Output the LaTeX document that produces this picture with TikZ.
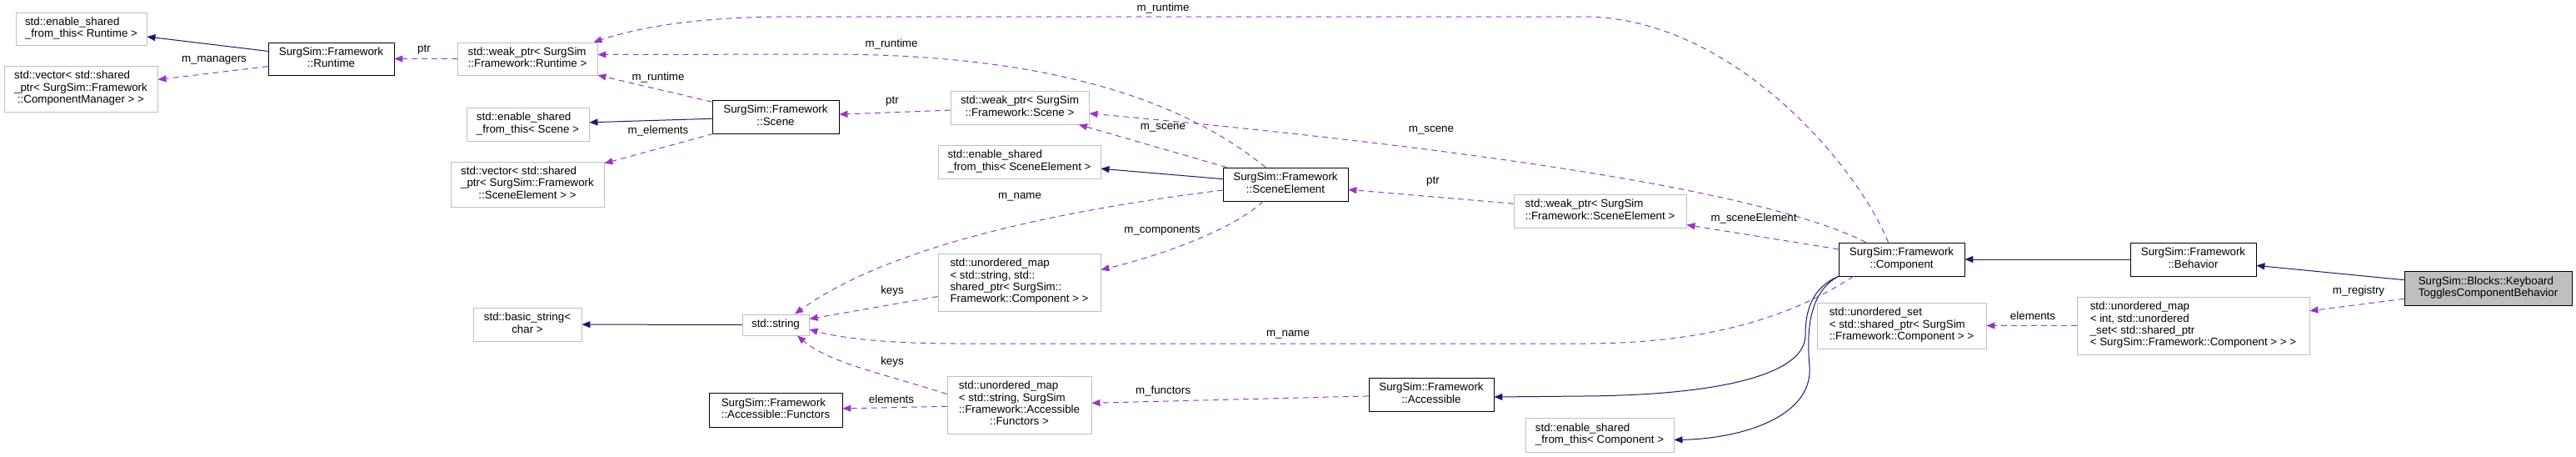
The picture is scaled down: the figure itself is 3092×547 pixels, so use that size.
\documentclass[tikz,border=0pt]{standalone}
\usepackage{fontspec}
\setmainfont{Liberation Sans}
\usetikzlibrary{arrows.meta, calc}
\definecolor{dxorchid}{HTML}{9A32CD}
\definecolor{dxnavy}{HTML}{191970}
\definecolor{dxgrey}{HTML}{BFBFBF}
\newcommand{\cls}[2]{\begin{tabular}{@{}l@{}}#1\\\multicolumn{1}{@{}c@{}}{#2}\end{tabular}}

\begin{document}
\begin{tikzpicture}[
    x=0.75pt, y=-0.75pt,
    font=\fontsize{10}{10.8}\selectfont,
    box/.style 2 args={draw, inner sep=0pt, line width=0.7pt,
                       minimum width=#1*0.75pt, minimum height=#2*0.75pt},
    ext/.style={draw=dxgrey, fill=white},
    doc/.style={draw=black, fill=white, line width=0.6pt},
    main/.style={draw=black, fill=dxgrey, line width=0.6pt},
    inh/.style={draw=dxnavy, line width=0.75pt, -{Triangle[length=7.5pt,width=6pt]}, dxnavy},
    member/.style={draw=dxorchid, line width=0.75pt, dash pattern=on 5pt off 4pt,
                   -{Triangle[length=7.5pt,width=6pt]}, dxorchid},
    edgelbl/.style={inner sep=0pt, text=black},
]
\useasboundingbox (0,0) rectangle (3092,547);

% Runtime column
\node[box={157}{39}, ext] (esRuntime) at (97.5,34.5) {\cls{std::enable\_shared}{\_from\_this< Runtime >}};
\node[box={184}{55}, ext] (vecMgr) at (97,106.5) {\cls{std::vector< std::shared\\\_ptr< SurgSim::Framework}{::ComponentManager > >}};
\node[box={151}{39}, doc] (runtime) at (397.5,70.5) {\cls{SurgSim::Framework}{::Runtime}};

% Scene column
\node[box={168}{39}, ext] (wpRuntime) at (633,70.5) {\cls{std::weak\_ptr< SurgSim}{::Framework::Runtime >}};
\node[box={147}{40}, ext] (esScene) at (633.5,149) {\cls{std::enable\_shared}{\_from\_this< Scene >}};
\node[box={184}{54}, ext] (vecElem) at (633,221) {\cls{std::vector< std::shared\\\_ptr< SurgSim::Framework}{::SceneElement > >}};
\node[box={130}{40}, ext] (basicStr) at (633,389) {\cls{std::basic\_string<}{char >}};
\node[box={152}{40}, doc] (scene) at (931,140) {\cls{SurgSim::Framework}{::Scene}};
\node[box={80}{25}, ext] (str) at (931,389.5) {std::string};
\node[box={160}{41}, doc] (functors) at (931,491.5) {\cls{SurgSim::Framework}{::Accessible::Functors}};

% Element column
\node[box={166}{40}, ext] (wpScene) at (1224,129) {\cls{std::weak\_ptr< SurgSim}{::Framework::Scene >}};
\node[box={195}{40}, ext] (esElem) at (1223.5,194) {\cls{std::enable\_shared}{\_from\_this< SceneElement >}};
\node[box={195}{69}, ext] (mapComp) at (1223.5,338.5) {\cls{std::unordered\_map\\< std::string, std::\\shared\_ptr< SurgSim::}{Framework::Component > >}};
\node[box={173}{69}, ext] (mapFunc) at (1223.5,485.5) {\cls{std::unordered\_map\\< std::string, SurgSim\\::Framework::Accessible}{::Functors >}};
\node[box={150}{40}, doc] (element) at (1543,221) {\cls{SurgSim::Framework}{::SceneElement}};
\node[box={150}{40}, doc] (accessible) at (1718,473) {\cls{SurgSim::Framework}{::Accessible}};
\node[box={207}{40}, ext] (wpElem) at (1920.5,253) {\cls{std::weak\_ptr< SurgSim}{::Framework::SceneElement >}};
\node[box={178}{41}, ext] (esComp) at (1920,521.5) {\cls{std::enable\_shared}{\_from\_this< Component >}};

% Component and behavior
\node[box={151}{40}, doc] (component) at (2282.5,311) {\cls{SurgSim::Framework}{::Component}};
\node[box={203}{55}, ext] (uset) at (2282.5,390.5) {\cls{std::unordered\_set\\< std::shared\_ptr< SurgSim}{::Framework::Component > >}};
\node[box={151}{40}, doc] (behavior) at (2632.5,311) {\cls{SurgSim::Framework}{::Behavior}};
\node[box={279}{69}, ext] (umapInt) at (2632.5,390.5) {\cls{std::unordered\_map\\< int, std::unordered\\\_set< std::shared\_ptr}{< SurgSim::Framework::Component > > >}};
\node[box={201}{41}, main] (keyboard) at (2986.5,345.5) {\cls{SurgSim::Blocks::Keyboard}{TogglesComponentBehavior}};

% Inheritance
\draw[inh] (runtime) -- (esRuntime);
\draw[inh] (scene) -- (esScene);
\draw[inh] (element) -- (esElem);
\draw[inh] (str) -- (basicStr);
\draw[inh] (behavior) -- (component);
\draw[inh] (keyboard) -- (behavior);
\draw[inh] (component.south west) .. controls (2175,345) and (2167,372) .. (2167,402)
  .. controls (2167,450) and (2060,474) .. (1900,475) -- ($(accessible.east)+(0,3)$);
\draw[inh] (component.south west) .. controls (2172,350) and (2168,395) .. (2172,440)
  .. controls (2176,500) and (2090,526) .. ($(esComp.east)+(0,6)$);

% Members
\draw[member] (runtime) -- (vecMgr);
\draw[member] (wpRuntime) -- (runtime);
\draw[member] (scene) -- (wpRuntime);
\draw[member] (scene) -- (vecElem);
\draw[member] (wpScene) -- (scene);
\draw[member] ($(element.north)+(-24,0)$) .. controls (1420,120) and (1260,66) .. (1000,65)
  -- ($(wpRuntime.east)+(0,-5)$);
\draw[member] (element) -- (wpScene);
\draw[member] ($(element.south)+(-27,0)$) .. controls (1485,272) and (1400,305) .. ($(mapComp.east)+(0,-15)$);
\draw[member] ($(element.west)+(0,7)$) .. controls (1250,255) and (1060,300) .. ($(str.north)+(23,0)$);
\draw[member] (mapComp) -- (str);
\draw[member] ($(mapFunc.west)+(0,-13)$) .. controls (1060,448) and (995,435) .. ($(str.south)+(26,0)$);
\draw[member] (mapFunc) -- (functors);
\draw[member] (accessible) -- (mapFunc);
\draw[member] (wpElem) -- (element);
\draw[member] (component) -- (wpElem);
\draw[member] ($(component.north west)+(33,0)$) .. controls (2150,245) and (1900,190) .. ($(wpScene.east)+(0,7)$);
\draw[member] ($(component.north)+(-16,0)$) .. controls (2230,200) and (2080,20) .. (1900,20)
  -- (950,20) .. controls (840,20) and (770,32) .. ($(wpRuntime.north east)+(-5,0)$);
\draw[member] ($(component.south west)+(18,0)$) .. controls (2150,380) and (2050,412) .. (1900,412)
  -- (1150,412) .. controls (1050,412) and (1000,403) .. ($(str.east)+(0,5.5)$);
\draw[member] (keyboard) -- (umapInt);
\draw[member] (umapInt) -- (uset);

% Edge labels
\node[edgelbl] (lMgr) at (257,72) {m\_managers};
\node[edgelbl] (lPtrRt) at (509,60) {ptr};
\node[edgelbl] (lRtScene) at (790,93) {m\_runtime};
\node[edgelbl] (lElems) at (790,157) {m\_elements};
\node[edgelbl] (lPtrScene) at (1071,122) {ptr};
\node[edgelbl] (lRtElem) at (1070,53) {m\_runtime};
\node[edgelbl] (lSceneElem) at (1396,153) {m\_scene};
\node[edgelbl] (lComps) at (1395,277) {m\_components};
\node[edgelbl] (lNameElem) at (1224,236) {m\_name};
\node[edgelbl] (lKeysComp) at (1071,349) {keys};
\node[edgelbl] (lKeysFunc) at (1071,434) {keys};
\node[edgelbl] (lFuncElems) at (1070,479) {elements};
\node[edgelbl] (lFunctors) at (1396,469) {m\_functors};
\node[edgelbl] (lPtrElem) at (1720,218) {ptr};
\node[edgelbl] (lSceneEl) at (2105,262) {m\_sceneElement};
\node[edgelbl] (lSceneComp) at (1718,156) {m\_scene};
\node[edgelbl] (lRtComp) at (1396,10) {m\_runtime};
\node[edgelbl] (lNameComp) at (1546,401) {m\_name};
\node[edgelbl] (lRegistry) at (2831,349) {m\_registry};
\node[edgelbl] (lSetElems) at (2440,379) {elements};
\end{tikzpicture}
\end{document}
